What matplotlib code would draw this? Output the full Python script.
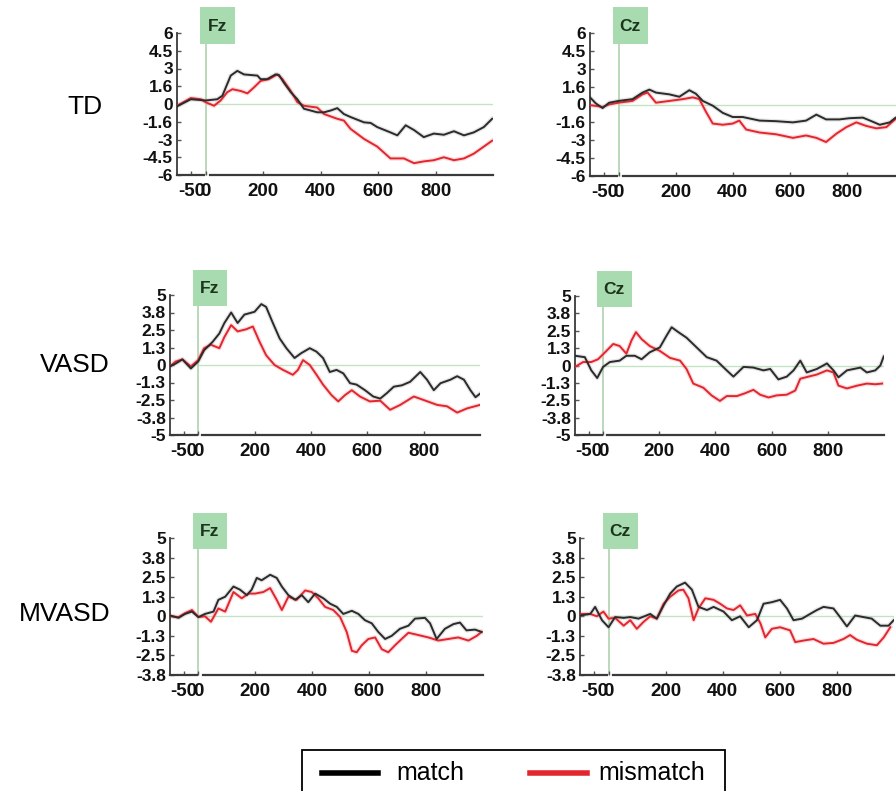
"""ERP waveforms (match vs mismatch) at Fz and Cz for TD, VASD and MVASD groups."""

import matplotlib
matplotlib.use("Agg")
import matplotlib.pyplot as plt
import matplotlib.transforms as mtransforms
from matplotlib.patches import Rectangle
import numpy as np

plt.rcParams["font.family"] = ["Liberation Sans", "DejaVu Sans"]

# ---- data (time in ms, amplitude in microvolts) ----
td_fz_match_t = [-100, -52, 0, 40, 58, 87, 110, 133, 180, 191, 214, 243, 255, 272, 296, 319, 342, 365,
                 388, 412, 435, 458, 481, 504, 551, 574, 597, 643, 667, 696, 725, 759, 794, 829, 864,
                 899, 933, 968, 997]
td_fz_match_v = [-0.2, 0.4, 0.3, 0.4, 0.7, 2.4, 2.8, 2.5, 2.4, 2.1, 2.1, 2.5, 2.45, 1.8, 1.0, 0.4, -0.4,
                 -0.55, -0.7, -0.7, -0.55, -0.35, -0.85, -1.1, -1.55, -1.6, -1.95, -2.4, -2.65, -1.8,
                 -2.2, -2.8, -2.5, -2.6, -2.3, -2.65, -2.4, -1.95, -1.25]
td_fz_mis_t = [-100, -52, -17, 0, 29, 52, 75, 93, 122, 145, 168, 191, 220, 249, 267, 296, 319, 342, 388,
               412, 458, 481, 504, 551, 597, 643, 690, 725, 759, 794, 829, 864, 899, 933, 968, 997]
td_fz_mis_v = [-0.15, 0.5, 0.4, 0.15, -0.15, 0.3, 1.0, 1.25, 1.1, 0.9, 1.4, 1.95, 2.1, 2.5, 2.1, 1.1,
               0.15, -0.15, -0.3, -0.85, -1.25, -1.4, -2.1, -2.95, -3.6, -4.6, -4.6, -5.0, -4.85,
               -4.75, -4.5, -4.75, -4.6, -4.2, -3.6, -3.1]

td_cz_match_t = [-100, -80, -56, -33, 0, 49, 84, 108, 131, 178, 213, 248, 271, 295, 330, 365, 400, 435,
                 494, 552, 611, 657, 693, 727, 774, 809, 856, 891, 915, 950, 971, 1000]
td_cz_match_v = [0.6, 0.1, -0.3, 0.15, 0.3, 0.45, 1.0, 1.25, 1.0, 0.85, 0.65, 1.2, 0.9, 0.3, -0.1, -0.7,
                 -1.05, -1.05, -1.35, -1.4, -1.5, -1.35, -0.85, -1.25, -1.25, -1.15, -1.1, -1.45,
                 -1.7, -1.5, -1.1, -1.0]
td_cz_mis_t = [-100, -56, -33, 0, 49, 84, 102, 131, 178, 225, 260, 283, 306, 330, 365, 400, 423, 447,
               494, 552, 611, 657, 693, 727, 763, 798, 833, 868, 903, 938, 971, 1000]
td_cz_mis_v = [-0.05, -0.2, 0.0, 0.15, 0.3, 0.85, 1.0, 0.15, 0.3, 0.45, 0.6, 0.45, -0.6, -1.6, -1.7,
               -1.6, -1.35, -2.1, -2.35, -2.5, -2.8, -2.6, -2.8, -3.15, -2.45, -1.9, -1.5, -1.8,
               -2.0, -1.9, -1.2, -1.0]

vasd_fz_match_t = [-100, -80, -56, -26, 0, 21, 51, 75, 93, 117, 140, 164, 182, 200, 224, 241, 265, 289,
                   313, 342, 366, 396, 420, 443, 467, 491, 515, 539, 562, 592, 621, 646, 670, 694, 723,
                   752, 788, 812, 836, 860, 895, 919, 943, 966, 984, 1000]
vasd_fz_match_v = [-0.1, 0.1, 0.4, -0.25, 0.25, 1.05, 1.65, 2.25, 3.0, 3.75, 3.0, 3.6, 3.7, 3.8, 4.35,
                   4.15, 3.0, 1.9, 1.2, 0.5, 0.85, 1.2, 0.95, 0.5, -0.5, -0.35, -0.6, -1.3, -1.4, -1.8,
                   -2.25, -2.4, -2.0, -1.55, -1.45, -1.2, -0.5, -1.05, -1.8, -1.3, -1.05, -0.8, -1.05,
                   -1.8, -2.3, -2.05]
vasd_fz_mis_t = [-100, -80, -56, -26, 0, 21, 45, 75, 93, 117, 140, 170, 194, 218, 241, 271, 301, 336,
                 354, 372, 396, 420, 443, 473, 497, 521, 545, 574, 609, 646, 681, 717, 765, 800, 848,
                 883, 919, 954, 1000]
vasd_fz_mis_v = [-0.1, 0.25, 0.4, -0.1, 0.35, 1.2, 1.45, 1.2, 2.0, 2.85, 2.4, 2.55, 2.75, 1.65, 0.7,
                 0.0, -0.35, -0.7, -0.35, 0.35, 0.0, -0.7, -1.4, -2.15, -2.6, -2.15, -1.8, -2.25,
                 -2.6, -2.55, -3.2, -2.85, -2.25, -2.5, -2.85, -2.95, -3.4, -3.1, -2.85]

vasd_cz_match_t = [-100, -65, -42, -21, 0, 24, 59, 83, 113, 137, 166, 202, 226, 244, 268, 297, 333, 369,
                   404, 440, 464, 500, 535, 571, 595, 624, 654, 678, 702, 725, 761, 797, 820, 838, 868,
                   916, 939, 969, 987, 999]
vasd_cz_match_v = [0.7, 0.6, -0.35, -0.9, -0.1, 0.25, 0.35, 0.7, 0.7, 0.45, 0.95, 1.3, 2.15, 2.75, 2.4,
                   2.0, 1.3, 0.6, 0.35, -0.35, -0.8, -0.1, -0.15, -0.35, -0.25, -1.0, -0.8, -0.35,
                   0.35, -0.5, -0.25, 0.15, -0.35, -0.85, -0.35, -0.15, -0.5, -0.35, 0.0, 0.65]
vasd_cz_mis_t = [-100, -71, -42, -18, 12, 36, 59, 83, 101, 117, 137, 166, 202, 238, 274, 297, 321, 357,
                 386, 416, 440, 476, 505, 535, 559, 589, 618, 654, 684, 702, 731, 761, 797, 820, 838,
                 868, 904, 939, 969, 993]
vasd_cz_mis_v = [-0.1, 0.25, 0.25, 0.45, 1.05, 1.55, 1.4, 0.85, 1.8, 2.4, 1.9, 1.4, 1.05, 0.55, 0.35,
                 -0.25, -1.3, -1.6, -2.15, -2.55, -2.2, -2.2, -2.0, -1.75, -2.1, -2.3, -2.15, -2.1,
                 -1.8, -0.95, -0.8, -0.65, -0.35, -0.5, -1.45, -1.65, -1.45, -1.3, -1.35, -1.3]

mvasd_fz_match_t = [-100, -70, -47, -23, 0, 23, 53, 70, 94, 123, 146, 170, 187, 205, 222, 252, 275, 293,
                    316, 340, 363, 386, 410, 439, 463, 486, 509, 539, 562, 585, 609, 632, 656, 679, 708,
                    738, 761, 796, 814, 837, 866, 896, 919, 942, 972, 995]
mvasd_fz_match_v = [0.05, -0.1, 0.15, 0.3, -0.05, 0.15, 0.3, 1.05, 1.25, 1.9, 1.7, 1.35, 1.7, 2.45,
                    2.3, 2.65, 2.45, 1.9, 1.35, 1.05, 1.35, 0.9, 1.45, 1.15, 0.8, 0.6, 0.15, 0.35, 0.15,
                    -0.25, -0.45, -1.0, -1.45, -1.25, -0.8, -0.6, -0.15, -0.1, -0.45, -1.45, -0.8,
                    -0.5, -0.4, -0.9, -0.85, -1.0]
mvasd_fz_mis_t = [-100, -70, -47, -23, 0, 23, 44, 70, 94, 123, 152, 176, 199, 228, 252, 275, 293, 316,
                  345, 375, 398, 421, 445, 474, 498, 521, 539, 556, 574, 597, 621, 644, 667, 691, 714,
                  738, 773, 808, 843, 878, 913, 949, 978, 995]
mvasd_fz_mis_v = [0.0, -0.05, 0.2, 0.4, -0.05, 0.0, -0.35, 0.5, 0.3, 1.55, 1.15, 1.45, 1.45, 1.55, 1.8,
                  1.05, 0.4, 1.25, 1.05, 1.65, 1.55, 1.15, 0.6, 0.4, -0.05, -1.0, -2.2, -2.3, -1.85,
                  -1.45, -1.35, -2.1, -2.3, -1.85, -1.45, -1.05, -1.2, -1.35, -1.55, -1.45, -1.35,
                  -1.55, -1.25, -1.0]

mvasd_cz_match_t = [-100, -64, -47, -23, 0, 23, 53, 76, 105, 146, 169, 193, 216, 239, 268, 292, 315, 345,
                    368, 403, 432, 461, 491, 520, 543, 572, 601, 625, 648, 678, 706, 730, 753, 788, 811,
                    835, 864, 893, 922, 952, 981, 999]
mvasd_cz_match_v = [0.05, 0.15, 0.6, -0.25, -0.7, -0.05, -0.1, -0.05, -0.15, 0.15, -0.15, 0.7, 1.45,
                    1.9, 2.15, 1.7, 0.6, 0.4, 0.6, 0.3, -0.25, 0.0, -0.7, -0.25, 0.8, 0.9, 1.05, 0.5,
                    -0.25, -0.15, 0.15, 0.4, 0.6, 0.5, -0.05, -0.65, 0.05, -0.05, -0.15, -0.6, -0.6,
                    -0.25]
mvasd_cz_mis_t = [-100, -64, -41, -18, 0, 23, 53, 76, 99, 123, 146, 169, 193, 216, 245, 262, 280, 298,
                  315, 339, 368, 391, 415, 438, 461, 485, 514, 532, 549, 572, 601, 636, 654, 683, 718,
                  753, 788, 823, 846, 870, 905, 940, 964, 987]
mvasd_cz_mis_v = [0.15, 0.15, 0.0, 0.3, -0.15, -0.1, -0.6, -0.25, -0.8, -0.35, 0.0, -0.15, 0.8, 1.25,
                  1.65, 1.7, 1.15, -0.25, 0.5, 1.15, 1.05, 0.8, 0.5, 0.4, 0.7, 0.05, 0.15, -0.45,
                  -1.35, -0.8, -0.7, -0.9, -1.65, -1.55, -1.45, -1.75, -1.7, -1.45, -1.2, -1.5, -1.75,
                  -1.85, -1.35, -0.7]

groups = ["TD", "VASD", "MVASD"]
sites = ["Fz", "Cz"]
xticks = [-50, 0, 200, 400, 600, 800]
xticklabels = ["-50", "0", "200", "400", "600", "800"]

td_yticks = [-6, -4.5, -3, -1.5, 0, 1.5, 3, 4.5, 6]
td_ylabels = ["-6", "-4.5", "-3", "-1.6", "0", "1.6", "3", "4.5", "6"]
vasd_yticks = [-5, -3.75, -2.5, -1.25, 0, 1.25, 2.5, 3.75, 5]
vasd_ylabels = ["-5", "-3.8", "-2.5", "-1.3", "0", "1.3", "2.5", "3.8", "5"]
mvasd_yticks = [-3.75, -2.5, -1.25, 0, 1.25, 2.5, 3.75, 5]
mvasd_ylabels = ["-3.8", "-2.5", "-1.3", "0", "1.3", "2.5", "3.8", "5"]

W, H = 896, 791
BLACK = "#2b2b2b"
RED = "#e3262e"
GREEN_BOX = "#a8dcb0"
GREEN_LINE = "#c3e3c3"
AXIS = "#3a3a3a"


def px_rect(left, right, top, bottom):
    return [left / W, 1 - bottom / H, (right - left) / W, (bottom - top) / H]


def draw_panel(ax, mt, mv, rt, rv, yticks, ylabels, site):
    ylo, yhi = yticks[0], yticks[-1]
    ax.set_xlim(-100, 1000)
    ax.set_ylim(ylo, yhi)

    ax.hlines(0, 0, 1000, color=GREEN_LINE, lw=1.0, zorder=1)
    ax.axvline(0, ymin=0, ymax=0.92, color="#b5d6b5", lw=1.3, zorder=1)

    # soft halo + line, like the blurred scan
    ax.plot(mt, mv, color="#9a9a9a", lw=3.2, alpha=0.25, zorder=2)
    ax.plot(rt, rv, color="#f2a0a6", lw=3.2, alpha=0.35, zorder=2)
    ax.plot(rt, rv, color=RED, lw=1.4, zorder=3)
    ax.plot(mt, mv, color=BLACK, lw=1.4, zorder=4)

    trans = mtransforms.blended_transform_factory(ax.transData, ax.transAxes)
    ax.add_patch(Rectangle((-20, 0.92), 122, 0.26, transform=trans, facecolor=GREEN_BOX,
                           edgecolor="none", clip_on=False, zorder=5))
    ax.text(40, 1.045, site, transform=trans, ha="center", va="center", fontsize=12.5,
            fontweight="bold", color="#1c331c", zorder=6)

    for side in ["top", "right", "bottom"]:
        ax.spines[side].set_visible(False)
    ax.spines["left"].set_color(AXIS)
    ax.spines["left"].set_linewidth(1.3)
    # broken x axis around stimulus onset
    ax.plot([-100, -5], [ylo, ylo], color=AXIS, lw=1.6, clip_on=False, zorder=5)
    ax.plot([15, 1000], [ylo, ylo], color=AXIS, lw=1.6, clip_on=False, zorder=5)

    ax.set_xticks(xticks)
    ax.set_xticklabels(xticklabels, fontsize=13.5, fontweight="bold", color="#111111")
    ax.set_yticks(yticks)
    ax.set_yticklabels(ylabels, fontsize=12.5, fontweight="bold", color="#111111")
    ax.tick_params(axis="both", direction="in", length=3, width=1, color="#555555")
    ax.tick_params(axis="x", pad=6)
    ax.tick_params(axis="y", pad=3)
    ax.set_facecolor("none")


fig = plt.figure(figsize=(W / 100, H / 100), dpi=100)

panels = [
    (px_rect(177, 493, 33, 175), td_fz_match_t, td_fz_match_v, td_fz_mis_t, td_fz_mis_v,
     td_yticks, td_ylabels, "Fz"),
    (px_rect(590, 904, 33, 176), td_cz_match_t, td_cz_match_v, td_cz_mis_t, td_cz_mis_v,
     td_yticks, td_ylabels, "Cz"),
    (px_rect(170, 480, 295, 435), vasd_fz_match_t, vasd_fz_match_v, vasd_fz_mis_t, vasd_fz_mis_v,
     vasd_yticks, vasd_ylabels, "Fz"),
    (px_rect(575, 884, 296, 435), vasd_cz_match_t, vasd_cz_match_v, vasd_cz_mis_t, vasd_cz_mis_v,
     vasd_yticks, vasd_ylabels, "Cz"),
    (px_rect(170, 483, 538, 675), mvasd_fz_match_t, mvasd_fz_match_v, mvasd_fz_mis_t, mvasd_fz_mis_v,
     mvasd_yticks, mvasd_ylabels, "Fz"),
    (px_rect(580, 894, 538, 675), mvasd_cz_match_t, mvasd_cz_match_v, mvasd_cz_mis_t, mvasd_cz_mis_v,
     mvasd_yticks, mvasd_ylabels, "Cz"),
]

for rect, mt, mv, rt, rv, yt, yl, site in panels:
    ax = fig.add_axes(rect)
    draw_panel(ax, mt, mv, rt, rv, yt, yl, site)

# group labels on the left
for name, (x, y) in zip(groups, [(102, 107), (110, 365), (110, 614)]):
    fig.text(x / W, 1 - y / H, name, ha="right", va="center", fontsize=19)

# legend box (runs off the bottom edge in the original)
fig.patches.append(Rectangle((302 / W, 1 - 800 / H), 423 / W, 50 / H, transform=fig.transFigure,
                             facecolor="white", edgecolor="black", lw=1.3))
fig.lines.append(plt.Line2D([322 / W, 378 / W], [1 - 773 / H] * 2, transform=fig.transFigure,
                            color="black", lw=4))
fig.text(396 / W, 1 - 773 / H, "match", ha="left", va="center", fontsize=18)
fig.lines.append(plt.Line2D([530 / W, 587 / W], [1 - 773 / H] * 2, transform=fig.transFigure,
                            color=RED, lw=4))
fig.text(598 / W, 1 - 773 / H, "mismatch", ha="left", va="center", fontsize=18)

fig.savefig("out.png", dpi=100)
plt.close(fig)
